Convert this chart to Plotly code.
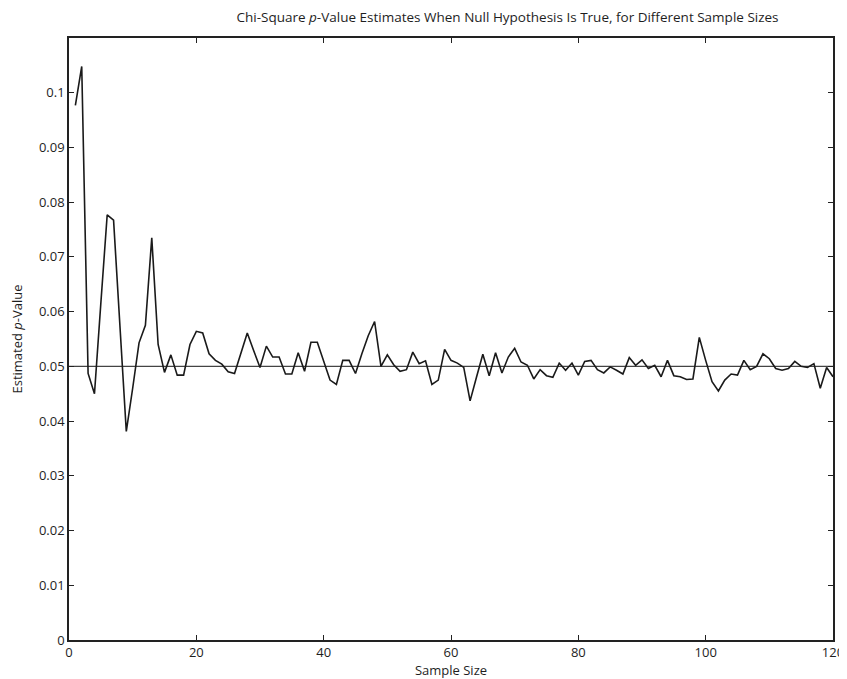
import plotly.graph_objects as go

sample_sizes = list(range(1, 121))
p_estimates = [
    0.0977, 0.1048, 0.0487, 0.0450, 0.0615, 0.0777, 0.0767, 0.0580, 0.0381, 0.0460,
    0.0543, 0.0575, 0.0735, 0.0540, 0.0489, 0.0521, 0.0484, 0.0484, 0.0540, 0.0564,
    0.0561, 0.0523, 0.0511, 0.0504, 0.0490, 0.0487, 0.0523, 0.0561, 0.0529, 0.0498,
    0.0537, 0.0517, 0.0517, 0.0486, 0.0486, 0.0525, 0.0491, 0.0544, 0.0544, 0.0511,
    0.0475, 0.0467, 0.0511, 0.0511, 0.0487, 0.0523, 0.0556, 0.0582, 0.0500, 0.0521,
    0.0503, 0.0491, 0.0494, 0.0526, 0.0505, 0.0510, 0.0467, 0.0475, 0.0531, 0.0511,
    0.0506, 0.0498, 0.0437, 0.0480, 0.0522, 0.0483, 0.0525, 0.0488, 0.0517, 0.0533,
    0.0508, 0.0502, 0.0477, 0.0494, 0.0483, 0.0480, 0.0506, 0.0493, 0.0506, 0.0484,
    0.0509, 0.0511, 0.0494, 0.0488, 0.0499, 0.0493, 0.0486, 0.0516, 0.0502, 0.0512,
    0.0496, 0.0502, 0.0481, 0.0511, 0.0483, 0.0481, 0.0476, 0.0477, 0.0553, 0.0511,
    0.0472, 0.0455, 0.0475, 0.0486, 0.0484, 0.0511, 0.0494, 0.0500, 0.0523, 0.0514,
    0.0496, 0.0493, 0.0496, 0.0509, 0.0500, 0.0498, 0.0505, 0.0460, 0.0498, 0.0481,
]
null_level = 0.05

x_ticks = [0, 20, 40, 60, 80, 100, 120]
y_ticks = [0, 0.01, 0.02, 0.03, 0.04, 0.05, 0.06, 0.07, 0.08, 0.09, 0.1]
y_tick_text = ["0", "0.01", "0.02", "0.03", "0.04", "0.05", "0.06", "0.07", "0.08", "0.09", "0.1"]

FONT = "Open Sans, Lato, sans-serif"
TXT = "#1e1e1e"

# the page body has an 8px margin, so the figure is sized to fill the rest of the window
PAGE_OFF = 8
W, H = 847 - PAGE_OFF, 679 - PAGE_OFF

fig = go.Figure()
fig.add_trace(go.Scatter(
    x=sample_sizes, y=p_estimates, mode="lines",
    line=dict(color="#1a1a1a", width=1.6), showlegend=False,
))
fig.add_hline(y=null_level, line=dict(color="#444444", width=1.2), layer="below")

axis_common = dict(
    automargin=False,
    showgrid=False, zeroline=False, showline=True, linecolor="#222222", linewidth=1.6,
    mirror="ticks", ticks="inside", ticklen=5, tickwidth=1.2, tickcolor="#222222",
    tickfont=dict(family=FONT, size=13, color=TXT),
)
fig.update_xaxes(range=[0, 120], tickvals=x_ticks,
                 title=dict(text="Sample Size", font=dict(family=FONT, size=13, color=TXT), standoff=0),
                 **axis_common)
fig.update_yaxes(range=[0, 0.11], tickvals=y_ticks, ticktext=y_tick_text,
                 title=dict(text="Estimated <i>p</i>-Value", font=dict(family=FONT, size=13, color=TXT), standoff=13),
                 **axis_common)

fig.update_layout(
    width=W, height=H,
    margin=dict(l=69 - PAGE_OFF, r=14, t=38 - PAGE_OFF, b=39),
    paper_bgcolor="white", plot_bgcolor="white",
    title=dict(text="Chi-Square <i>p</i>-Value Estimates When Null Hypothesis Is True, for Different Sample Sizes",
               x=((237 + 778) / 2 - PAGE_OFF) / W, xref="container", xanchor="center",
               y=1 - (17 - PAGE_OFF) / H, yref="container", yanchor="middle",
               font=dict(family=FONT, size=13.5, color=TXT)),
)

fig.write_html("out.html")
